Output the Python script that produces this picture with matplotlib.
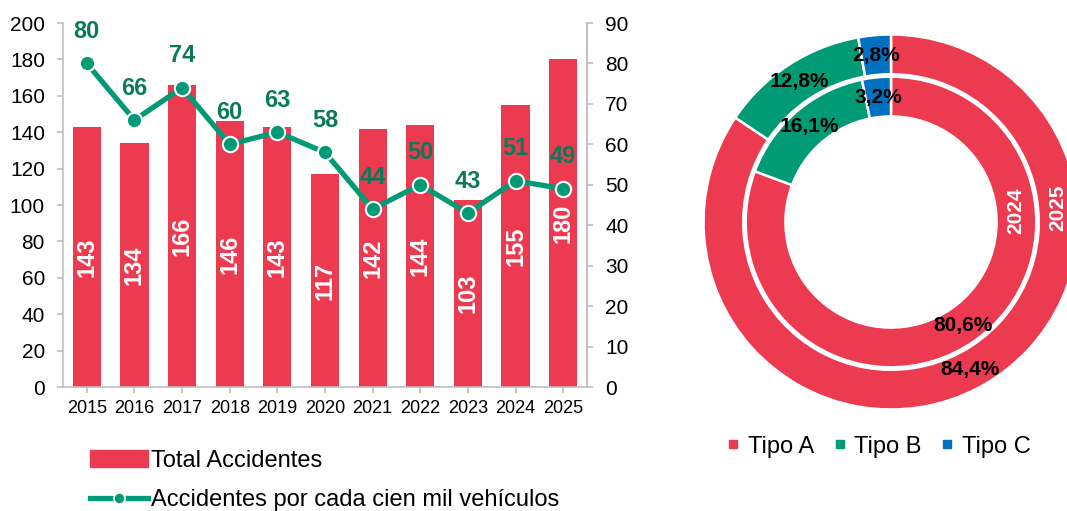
import matplotlib
matplotlib.use('Agg')
import matplotlib.pyplot as plt
import numpy as np
from matplotlib.lines import Line2D
from matplotlib.patches import Patch

# ---- data ----
years = ['2015', '2016', '2017', '2018', '2019', '2020', '2021', '2022', '2023', '2024', '2025']
total_accidentes = [143, 134, 166, 146, 143, 117, 142, 144, 103, 155, 180]
accidentes_cien_mil = [80, 66, 74, 60, 63, 58, 44, 50, 43, 51, 49]

tipos = ['Tipo A', 'Tipo B', 'Tipo C']
pct_2025 = [84.4, 12.8, 2.8]
pct_2024 = [80.6, 16.1, 3.2]
ring_labels = ['2025', '2024']

# ---- style ----
RED = '#EC3A50'
GREEN = '#009A74'
GREEN_TXT = '#0B7A5A'
BLUE = '#0070C0'
GRAY = '#BFBFBF'
plt.rcParams['font.family'] = ['Liberation Sans', 'DejaVu Sans']

W, H = 1067, 511
fig = plt.figure(figsize=(W / 100, H / 100), dpi=100)

# ---- combo chart ----
ax = fig.add_axes([63 / W, (H - 387) / H, 524 / W, 364 / H])
x = np.arange(len(years))
bars = ax.bar(x, total_accidentes, width=0.59, color=RED, zorder=2)
ax.set_xlim(-0.5, len(years) - 0.5)
ax.set_ylim(0, 200)
ax.set_yticks(np.arange(0, 201, 20))
ax.set_xticks(x)
ax.set_xticklabels(years)
ax.spines['top'].set_visible(False)
for s in ['left', 'bottom', 'right']:
    ax.spines[s].set_color(GRAY)
    ax.spines[s].set_linewidth(1.2)
ax.tick_params(axis='y', labelsize=15, length=4, width=1.2, color=GRAY, pad=9)
ax.tick_params(axis='x', labelsize=13, length=4, width=1.2, color=GRAY, pad=5)

for b, v in zip(bars, total_accidentes):
    ax.text(b.get_x() + b.get_width() / 2, v / 2, str(v), rotation=90,
            ha='center', va='center', color='white', fontsize=17, fontweight='bold', zorder=3)

ax2 = ax.twinx()
ax2.set_ylim(0, 90)
ax2.set_yticks(np.arange(0, 91, 10))
for s in ['top', 'left', 'bottom']:
    ax2.spines[s].set_visible(False)
ax2.spines['right'].set_color(GRAY)
ax2.spines['right'].set_linewidth(1.2)
ax2.tick_params(axis='y', labelsize=15, length=4, width=1.2, color=GRAY, pad=9)
ax2.plot(x, accidentes_cien_mil, color=GREEN, lw=3.8, marker='o', ms=11,
         mfc=GREEN, mec='white', mew=1.5, solid_joinstyle='round', zorder=4)
for xi, v in zip(x, accidentes_cien_mil):
    ax2.annotate(str(v), (xi, v), xytext=(0, 23), textcoords='offset points',
                 ha='center', va='center', color=GREEN_TXT, fontsize=17, fontweight='bold')

fig.legend(handles=[Patch(color=RED, label='Total Accidentes'),
                    Line2D([], [], color=GREEN, lw=3.8, marker='o', ms=8, mfc=GREEN,
                           mec='white', mew=1.2, label='Accidentes por cada cien mil vehículos')],
           loc='upper left', bbox_to_anchor=(90 / W, 1 - 450 / H), frameon=False,
           fontsize=17, handlelength=2.45, handletextpad=0.12, labelspacing=0.72,
           borderaxespad=0, borderpad=0)

# ---- donut chart ----
cx, cy, R = 891, 222, 187.5
axd = fig.add_axes([(cx - R) / W, (H - cy - R) / H, 2 * R / W, 2 * R / H])
colors = [RED, GREEN, BLUE]
ring_w = 0.212
rings = [(pct_2025, 1.0), (pct_2024, 0.775)]
for (vals, rad), lab in zip(rings, ring_labels):
    wedges, _ = axd.pie(vals, radius=rad, colors=colors, startangle=90, counterclock=False,
                        wedgeprops=dict(width=ring_w, edgecolor='white', linewidth=1.8))
    rm = rad - ring_w / 2
    for w, v in zip(wedges, vals):
        ang = np.deg2rad((w.theta1 + w.theta2) / 2)
        axd.text(rm * np.cos(ang), rm * np.sin(ang), f'{v:.1f}%'.replace('.', ','),
                 ha='center', va='center', fontsize=15, fontweight='bold', color='black')
    ang = np.deg2rad(5)
    axd.text(rm * np.cos(ang), rm * np.sin(ang), lab, rotation=90, ha='center', va='center',
             fontsize=15, fontweight='bold', color='white')
axd.set_xlim(-1, 1)
axd.set_ylim(-1, 1)
axd.axis('off')

fig.legend(handles=[Line2D([], [], ls='none', marker='s', ms=6, mfc=c, mec=c, label=t)
                    for c, t in zip(colors, tipos)],
           loc='center', bbox_to_anchor=(879.5 / W, 1 - 446.5 / H), ncol=3, frameon=False,
           fontsize=17, handlelength=0.4, handletextpad=0.4, columnspacing=0.9,
           borderaxespad=0, borderpad=0)

fig.savefig('out.png', dpi=100)
